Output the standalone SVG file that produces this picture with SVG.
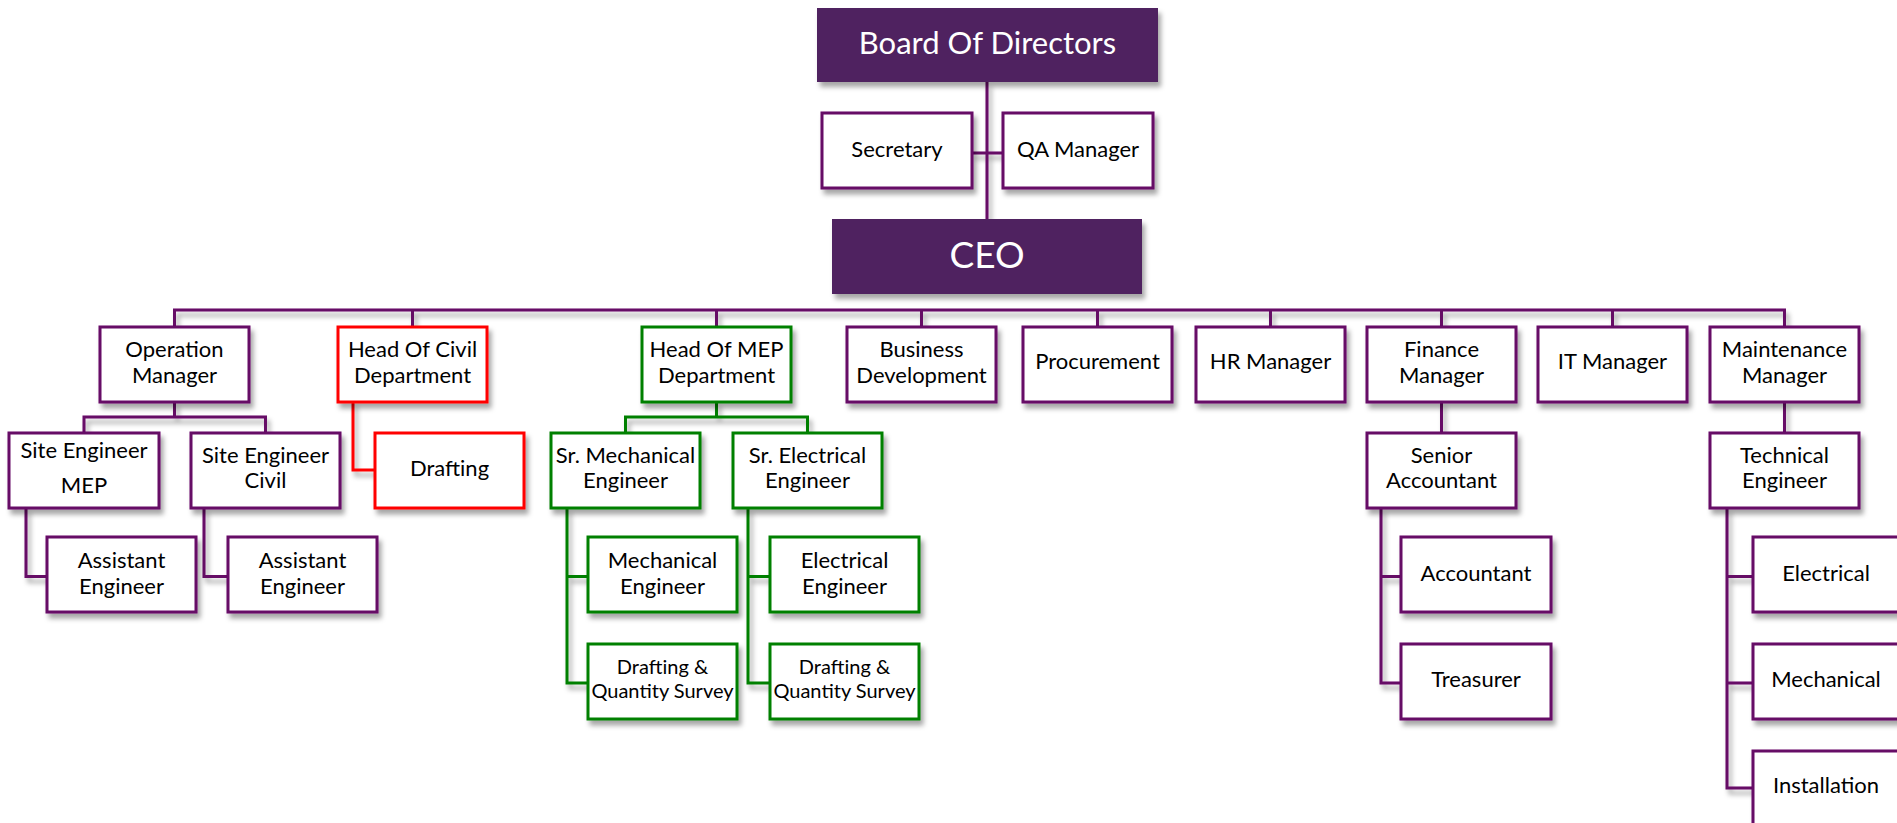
<svg xmlns="http://www.w3.org/2000/svg" width="1897" height="823" viewBox="0 0 1897 823">
<defs>
<filter id="sh" x="-10%" y="-10%" width="130%" height="140%">
<feDropShadow dx="3" dy="5" stdDeviation="2.5" flood-color="#000" flood-opacity="0.35"/>
</filter>
<style>
.dark{fill:#4f2060;filter:url(#sh)}
.box{fill:#fff;stroke:#660a66;stroke-width:3;filter:url(#sh)}
.red{stroke:#ff0000}
.green{stroke:#008000}
.ln{fill:none;stroke:#660a66;stroke-width:3;filter:url(#sh)}
.lr{fill:none;stroke:#ff0000;stroke-width:3;filter:url(#sh)}
.lg{fill:none;stroke:#008000;stroke-width:3;filter:url(#sh)}
text{font-family:Lato,"Liberation Sans",sans-serif;font-size:22px;fill:#000;text-anchor:middle}
.w{fill:#fff}
.s{font-size:20px}
</style>
</defs>
<g id="connectors">
<path class="ln" d="M987,82 V219 M972,153 H1003"/>
<path class="ln" d="M174.5,327 V310 H1784.5 V327 M412.5,310 V327 M716.5,310 V327 M921.5,310 V327 M1097.5,310 V327 M1270.5,310 V327 M1441.5,310 V327 M1612.5,310 V327"/>
<path class="ln" d="M987,294 V310" style="stroke-width:5"/>
<path class="ln" d="M174.5,402 V417 M84,433 V417 H265.5 V433"/>
<path class="ln" d="M26,508 V576.5 H47 M204,508 V576.5 H228"/>
<path class="lr" d="M353,402 V470 H375"/>
<path class="lg" d="M716.5,402 V417 M625.5,433 V417 H807.5 V433"/>
<path class="lg" d="M567,508 V683 H588 M567,576.5 H588 M748,508 V683 H770 M748,576.5 H770"/>
<path class="ln" d="M1441.5,402 V433 M1381,508 V683 H1401 M1381,576.5 H1401"/>
<path class="ln" d="M1784.5,402 V433 M1727,508 V788 H1753 M1727,576.5 H1753 M1727,683 H1753"/>
</g>
<g id="board"><rect class="dark" x="817" y="8" width="341" height="74"/><text class="w" x="987.5" y="54" style="font-size:31px">Board Of Directors</text></g>
<g id="secretary"><rect class="box" x="822" y="113" width="150" height="75"/><text x="897" y="157">Secretary</text></g>
<g id="qa"><rect class="box" x="1003" y="113" width="150" height="75"/><text x="1078" y="157">QA Manager</text></g>
<g id="ceo"><rect class="dark" x="832" y="219" width="310" height="75"/><text class="w" x="987" y="268" style="font-size:37px">CEO</text></g>
<g id="operation"><rect class="box" x="100" y="327" width="149" height="75"/><text x="174.5" y="357">Operation</text><text x="174.5" y="383">Manager</text></g>
<g id="civil"><rect class="box red" x="338" y="327" width="149" height="75"/><text x="412.5" y="357">Head Of Civil</text><text x="412.5" y="383">Department</text></g>
<g id="mep"><rect class="box green" x="642" y="327" width="149" height="75"/><text x="716.5" y="357">Head Of MEP</text><text x="716.5" y="383">Department</text></g>
<g id="bizdev"><rect class="box" x="847" y="327" width="149" height="75"/><text x="921.5" y="357">Business</text><text x="921.5" y="383">Development</text></g>
<g id="procurement"><rect class="box" x="1023" y="327" width="149" height="75"/><text x="1097.5" y="369">Procurement</text></g>
<g id="hr"><rect class="box" x="1196" y="327" width="149" height="75"/><text x="1270.5" y="369">HR Manager</text></g>
<g id="finance"><rect class="box" x="1367" y="327" width="149" height="75"/><text x="1441.5" y="357">Finance</text><text x="1441.5" y="383">Manager</text></g>
<g id="it"><rect class="box" x="1538" y="327" width="149" height="75"/><text x="1612.5" y="369">IT Manager</text></g>
<g id="maintenance"><rect class="box" x="1710" y="327" width="149" height="75"/><text x="1784.5" y="357">Maintenance</text><text x="1784.5" y="383">Manager</text></g>
<g id="site-mep"><rect class="box" x="9" y="433" width="150" height="75"/><text x="84" y="458">Site Engineer</text><text x="84" y="493">MEP</text></g>
<g id="site-civil"><rect class="box" x="191" y="433" width="149" height="75"/><text x="265.5" y="463">Site Engineer</text><text x="265.5" y="488">Civil</text></g>
<g id="drafting"><rect class="box red" x="375" y="433" width="149" height="75"/><text x="449.5" y="476">Drafting</text></g>
<g id="sr-mech"><rect class="box green" x="551" y="433" width="149" height="75"/><text x="625.5" y="463">Sr. Mechanical</text><text x="625.5" y="488">Engineer</text></g>
<g id="sr-elec"><rect class="box green" x="733" y="433" width="149" height="75"/><text x="807.5" y="463">Sr. Electrical</text><text x="807.5" y="488">Engineer</text></g>
<g id="senior-acc"><rect class="box" x="1367" y="433" width="149" height="75"/><text x="1441.5" y="463">Senior</text><text x="1441.5" y="488">Accountant</text></g>
<g id="tech-eng"><rect class="box" x="1710" y="433" width="149" height="75"/><text x="1784.5" y="463">Technical</text><text x="1784.5" y="488">Engineer</text></g>
<g id="asst1"><rect class="box" x="47" y="537" width="149" height="75"/><text x="121.5" y="568">Assistant</text><text x="121.5" y="594">Engineer</text></g>
<g id="asst2"><rect class="box" x="228" y="537" width="149" height="75"/><text x="302.5" y="568">Assistant</text><text x="302.5" y="594">Engineer</text></g>
<g id="mech-eng"><rect class="box green" x="588" y="537" width="149" height="75"/><text x="662.5" y="568">Mechanical</text><text x="662.5" y="594">Engineer</text></g>
<g id="elec-eng"><rect class="box green" x="770" y="537" width="149" height="75"/><text x="844.5" y="568">Electrical</text><text x="844.5" y="594">Engineer</text></g>
<g id="accountant"><rect class="box" x="1401" y="537" width="150" height="75"/><text x="1476" y="581">Accountant</text></g>
<g id="electrical"><rect class="box" x="1753" y="537" width="150" height="75"/><text x="1826" y="581">Electrical</text></g>
<g id="dqs1"><rect class="box green" x="588" y="644" width="149" height="75"/><text class="s" x="662.5" y="674">Drafting &amp;</text><text class="s" x="662.5" y="698">Quantity Survey</text></g>
<g id="dqs2"><rect class="box green" x="770" y="644" width="149" height="75"/><text class="s" x="844.5" y="674">Drafting &amp;</text><text class="s" x="844.5" y="698">Quantity Survey</text></g>
<g id="treasurer"><rect class="box" x="1401" y="644" width="150" height="75"/><text x="1476" y="687">Treasurer</text></g>
<g id="mechanical"><rect class="box" x="1753" y="644" width="150" height="75"/><text x="1826" y="687">Mechanical</text></g>
<g id="installation"><rect class="box" x="1753" y="751" width="150" height="80"/><text x="1826" y="793">Installation</text></g>
</svg>
